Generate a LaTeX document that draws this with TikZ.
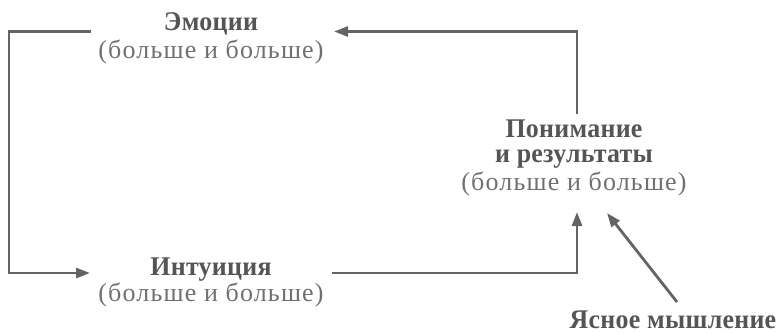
\documentclass[tikz,border=0pt]{standalone}
\usepackage{fontspec}
\setmainfont{Liberation Serif}
\newfontfamily\ttlfont[FakeStretch=0.96,LetterSpace=1]{Liberation Serif}
\newfontfamily\sbtfont[LetterSpace=4.5]{Liberation Serif}
\usetikzlibrary{arrows.meta}
\definecolor{linegray}{HTML}{646464}
\definecolor{titlegray}{HTML}{555555}
\definecolor{subgray}{HTML}{707070}
\tikzset{
  conn/.style={draw=linegray, line width=2.8pt, -{Triangle[length=14pt,width=10pt]}},
  ttl/.style={anchor=base, inner sep=0pt, text=titlegray, font=\ttlfont\bfseries\fontsize{27}{30}\selectfont},
  sbt/.style={anchor=base, inner sep=0pt, text=subgray, font=\sbtfont\fontsize{26}{30}\selectfont},
}
\begin{document}
\begin{tikzpicture}[x=1pt,y=-1pt]
\useasboundingbox (0,0) rectangle (778,333);
% Emotions
\node[ttl] (emoT) at (211,30) {Эмоции};
\node[sbt] (emoS) at (211,58.5) {(больше и больше)};
% Intuition
\node[ttl] (intT) at (211,275) {Интуиция};
\node[sbt] (intS) at (211,301) {(больше и больше)};
% Understanding
\node[ttl] (undT1) at (574,137) {Понимание};
\node[ttl] (undT2) at (574,162) {и результаты};
\node[sbt] (undS) at (574,190) {(больше и больше)};
% Clear thinking
\node[ttl, font=\ttlfont\bfseries\fontsize{27}{30}\selectfont] (clr) at (673,328) {Ясное мышление};
\coordinate (emoL) at (91,31.5);
\coordinate (lc1) at (9,31.5);
\coordinate (lc2) at (9,273);
\coordinate (intL) at (90,273);
\coordinate (intR) at (332,273);
\coordinate (rc1) at (577,273);
\coordinate (undB) at (577,212);
\coordinate (undTop) at (577,114);
\coordinate (rc2) at (577,31.5);
\coordinate (emoR) at (334,31.5);
\coordinate (clrT) at (677,302);
\coordinate (undBR) at (607,213);
\draw[conn] (emoL) -- (lc1) -- (lc2) -- (intL);
\draw[conn] (intR) -- (rc1) -- (undB);
\draw[conn] (undTop) -- (rc2) -- (emoR);
\draw[conn] (clrT) -- (undBR);
\end{tikzpicture}
\end{document}
